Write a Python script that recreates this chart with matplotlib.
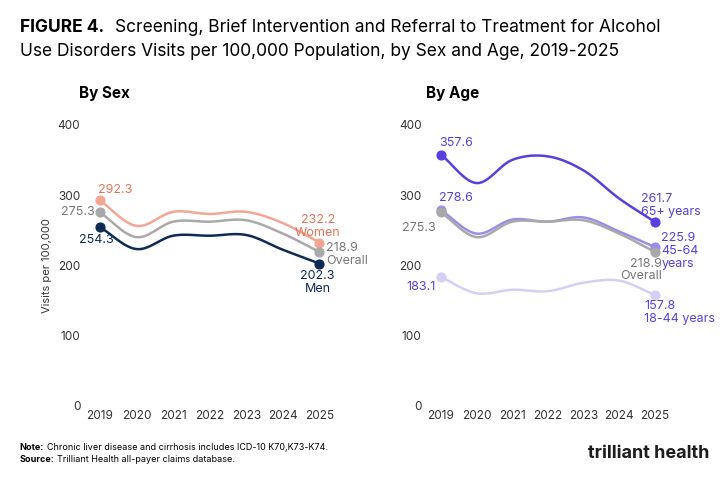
import matplotlib.pyplot as plt
import numpy as np

years = [2019, 2020, 2021, 2022, 2023, 2024, 2025]
women = [292.3, 256, 276, 273, 276, 260, 232.2]
overall = [275.3, 240, 262, 262, 264, 245, 218.9]
men = [254.3, 223, 242, 242, 243, 222, 202.3]
age65 = [357.6, 317, 350, 355, 335, 295, 261.7]
age45 = [278.6, 245, 265, 262, 268, 248, 225.9]
age18 = [183.1, 160, 165, 163, 175, 178, 157.8]


def smooth(x, y, n=20):
    # catmull-rom through the yearly points
    x = np.asarray(x, float)
    y = np.asarray(y, float)
    px = np.concatenate([[2 * x[0] - x[1]], x, [2 * x[-1] - x[-2]]])
    py = np.concatenate([[2 * y[0] - y[1]], y, [2 * y[-1] - y[-2]]])
    xs, ys = [], []
    for i in range(1, len(px) - 2):
        t = np.linspace(0, 1, n, endpoint=False)
        for p, out in ((px, xs), (py, ys)):
            p0, p1, p2, p3 = p[i - 1:i + 3]
            out.extend(0.5 * (2 * p1 + (-p0 + p2) * t
                              + (2 * p0 - 5 * p1 + 4 * p2 - p3) * t ** 2
                              + (-p0 + 3 * p1 - 3 * p2 + p3) * t ** 3))
    xs.append(x[-1])
    ys.append(y[-1])
    return xs, ys


plt.rcParams['font.family'] = ['Inter', 'DejaVu Sans']
fig = plt.figure(figsize=(7.28, 4.8), dpi=100)
ax1 = fig.add_axes([0.117, 0.155, 0.347, 0.585])
ax2 = fig.add_axes([0.586, 0.155, 0.338, 0.585])

fig.text(0.027, 0.96, 'FIGURE 4.', fontsize=12.5, fontweight='bold', va='top')
fig.text(0.158, 0.96, 'Screening, Brief Intervention and Referral to Treatment for Alcohol',
         fontsize=12.5, va='top')
fig.text(0.027, 0.91, 'Use Disorders Visits per 100,000 Population, by Sex and Age, 2019-2025',
         fontsize=12.5, va='top')
fig.text(0.108, 0.795, 'By Sex', fontsize=11, fontweight='bold')
fig.text(0.585, 0.795, 'By Age', fontsize=11, fontweight='bold')
fig.text(0.027, 0.062, 'Note:', fontsize=6.5, fontweight='bold')
fig.text(0.065, 0.062, 'Chronic liver disease and cirrhosis includes ICD-10 K70,K73-K74.', fontsize=6.5)
fig.text(0.027, 0.038, 'Source:', fontsize=6.5, fontweight='bold')
fig.text(0.078, 0.038, 'Trilliant Health all-payer claims database.', fontsize=6.5)
fig.text(0.975, 0.045, 'trilliant health', fontsize=13, fontweight='bold',
         color='#1d1d1d', ha='right')

for ax in (ax1, ax2):
    ax.set_ylim(0, 400)
    ax.set_xlim(2018.6, 2025.5)
    ax.set_yticks([0, 100, 200, 300, 400])
    ax.set_xticks(years)
    for s in ax.spines.values():
        s.set_visible(False)
    ax.tick_params(length=0, labelsize=8.5, colors='#333333')
ax1.set_ylabel('Visits per 100,000', fontsize=8, color='#333333')


def draw(ax, y, color, lw=1.8):
    xs, ys = smooth(years, y)
    ax.plot(xs, ys, color=color, lw=lw)
    ax.scatter([years[0], years[-1]], [y[0], y[-1]], color=color, s=40, zorder=3)


draw(ax1, women, '#F4A696')
draw(ax1, overall, '#A9A9A9')
draw(ax1, men, '#0E2A55')
kw = dict(fontsize=9)
ax1.text(2018.95, women[0] + 6, '292.3', color='#E8735A', ha='left', va='bottom', **kw)
ax1.text(2018.85, overall[0], '275.3', color='#777777', ha='right', va='center', **kw)
ax1.text(2018.9, men[0] - 10, '254.3', color='#0E2A55', ha='center', va='top', **kw)
ax1.text(2024.95, women[-1] + 5, '232.2\nWomen', color='#E8735A', ha='center', va='bottom',
         linespacing=1.1, **kw)
ax1.text(2025.18, overall[-1] - 4, '218.9\nOverall', color='#777777', ha='left', va='center',
         linespacing=1.1, **kw)
ax1.text(2024.95, men[-1] - 9, '202.3\nMen', color='#0E2A55', ha='center', va='top',
         linespacing=1.1, **kw)

draw(ax2, age65, '#5A3FE0')
draw(ax2, age45, '#9D8DE8')
draw(ax2, overall, '#A9A9A9')
draw(ax2, age18, '#D6CFF3')
ax2.text(2018.95, age65[0] + 8, '357.6', color='#5A3FE0', ha='left', va='bottom', **kw)
ax2.text(2018.95, age45[0] + 8, '278.6', color='#5A3FE0', ha='left', va='bottom', **kw)
ax2.text(2018.85, overall[0] - 22, '275.3', color='#777777', ha='right', va='center', **kw)
ax2.text(2018.85, age18[0] - 14, '183.1', color='#5A3FE0', ha='right', va='center', **kw)
ax2.text(2024.6, age65[-1] + 6, '261.7\n65+ years', color='#5A3FE0', ha='left', va='bottom',
         linespacing=1.1, **kw)
ax2.text(2025.18, age45[-1] - 6, '225.9\n45-64\nyears', color='#5A3FE0', ha='left', va='center',
         linespacing=1.1, **kw)
ax2.text(2025.2, overall[-1] - 8, '218.9\nOverall', color='#777777', ha='right', va='top',
         linespacing=1.1, **kw)
ax2.text(2024.7, age18[-1] - 8, '157.8\n18-44 years', color='#5A3FE0', ha='left', va='top',
         linespacing=1.1, **kw)

fig.savefig('out.png', dpi=100)
